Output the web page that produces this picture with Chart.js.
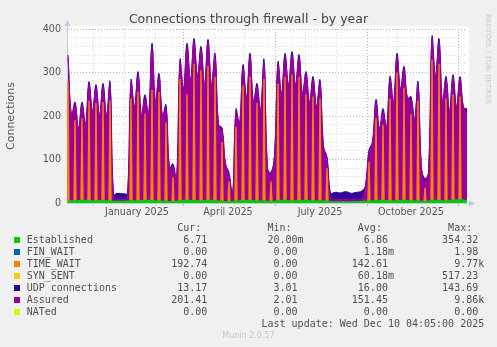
<!DOCTYPE html>
<html>
<head>
<meta charset="utf-8">
<script src="https://cdn.jsdelivr.net/npm/chart.js@4.4.1/dist/chart.umd.min.js"></script>
<style>
  body { margin: 0; background: #f0f0f0; }
  #wrap { position: relative; width: 497px; height: 347px; overflow: hidden; font-family: "DejaVu Sans", sans-serif; }
  #chart { position: absolute; left: 0; top: 0; }
  #title { position: absolute; left: 0; top: 10.5px; width: 497px; text-align: center; font-size: 12.5px; line-height: 15px; color: #444; }
  #rrd { position: absolute; left: 483px; top: 14px; writing-mode: vertical-rl; font-size: 7px; line-height: 9px; color: #c8c8c8; white-space: nowrap; }
  #legend { position: absolute; left: 0; top: 222px; width: 497px; font-family: "DejaVu Sans Mono", monospace; font-size: 10px; line-height: 12px; color: #505050; }
  .row { position: relative; height: 12px; white-space: pre; padding-left: 26.7px; }
  .sq { position: absolute; left: 14px; top: 3px; width: 6px; height: 6px; }
  #munin { position: absolute; left: 0; top: 331px; width: 497px; text-align: center; font-size: 8px; line-height: 10px; color: #c4c4c4; }
</style>
</head>
<body>
<div id="wrap">
  <canvas id="chart" width="497" height="347"></canvas>
  <div id="title">Connections through firewall - by year</div>
  <div id="rrd">RRDTOOL / TOBI OETIKER</div>
  <div id="legend"></div>
  <div id="munin">Munin 2.0.57</div>
</div>
<script>
// days counted from 5 Nov 2024 (left edge), 400 days to 10 Dec 2025
var firstDay = 1;

// one peak (weekdays) and one low (weekend) per week
var assuredPeak = [333,225,225,271,264,267,271,8,8,275,
                   294,241,359,290,218,83,322,359,370,352,
                   368,336,165,64,209,310,336,267,322,64,
                   317,336,340,333,294,283,275,99,8,8,
                   8,8,10,115,230,209,283,336,306,237,
                   271,50,375,370,283,287,283];
var assuredLow = [200,170,180,210,200,200,8,8,10,220,
                  200,200,230,200,80,50,260,280,290,270,
                  270,180,90,15,180,240,230,210,80,110,
                  250,270,270,250,230,220,130,8,8,8,
                  8,8,40,140,170,170,230,260,240,190,
                  80,70,290,230,210,220,220];
var timeWaitPeak = [280,190,195,235,230,232,235,0,0,240,
                    255,205,260,255,185,60,285,250,320,305,
                    315,290,140,50,175,270,290,230,285,50,
                    275,290,295,290,250,245,240,80,0,0,
                    0,0,3,95,195,180,240,300,265,205,
                    235,35,330,320,240,250,245];
var timeWaitLow = [4,3,3,4,3,3,0,0,0,4,
                   3,3,4,3,3,2,4,3,3,4,
                   3,3,2,2,3,4,3,3,4,2,
                   3,4,3,3,4,3,3,0,0,0,
                   0,0,1,3,4,3,3,4,3,3,
                   2,2,4,3,3,4,3];
var udpPeak = [340,232,232,279,272,275,279,22,21,283,
               302,249,367,298,226,90,330,367,378,360,
               376,344,173,70,216,318,344,275,330,70,
               325,344,348,341,302,291,283,106,24,23,
               25,24,28,122,238,217,291,344,314,245,
               279,56,383,378,291,295,291];
var udpLow = [200,170,180,210,200,200,20,22,22,220,
              200,200,230,200,80,50,260,280,290,270,
              270,180,90,18,180,240,230,210,80,110,
              250,270,270,250,230,220,130,22,24,26,
              22,25,40,140,170,170,230,260,240,190,
              80,70,290,230,210,220,220];
var established = [7,6,8,7,6,8,6,5,5,7,
                   6,8,7,6,5,4,7,8,7,6,
                   8,7,5,4,6,7,8,6,7,4,
                   7,8,6,7,8,6,7,5,4,4,
                   4,4,5,6,7,8,6,7,8,6,
                   7,4,8,7,6,8,9];
var lastAssured = 210, lastTimeWait = 3, lastUdp = 216, lastEstablished = 7;

var monthDays = [26,57,88,116,147,177,208,238,269,300,330,361,391];
var quarterDays = [116,208,300,391];
var labelDays = [70,161,253,344];
var monthLabels = ['January 2025','April 2025','July 2025','October 2025'];

var legendNames = ['Established','FIN_WAIT','TIME_WAIT','SYN_SENT','UDP connections','Assured','NATed'];
var legendColors = ['#00cc00','#0066b3','#ff8000','#ffcc00','#330099','#990099','#ccff00'];
var curVals = ['6.71','0.00','192.74','0.00','13.17','201.41','0.00'];
var minVals = ['20.00m','0.00','0.00','0.00','3.01','2.01','0.00'];
var avgVals = ['6.86','1.18m','142.61','60.18m','16.00','151.45','0.00'];
var maxVals = ['354.32','1.98','9.77k','517.23','143.69','9.86k','0.00'];
var lastUpdate = 'Last update: Wed Dec 10 04:05:00 2025';

var axisColor = '#c4c8e8';
var minorGrid = '#d8d8d8';
var majorGrid = '#e8a0a0';

// peak and low of each week, low half a week after the peak
function weekly(peaks, lows, last) {
  var pts = [];
  peaks.forEach(function (p, k) {
    pts.push({x: firstDay + 7 * k, y: p});
    pts.push({x: firstDay + 3.5 + 7 * k, y: lows[k]});
  });
  pts.push({x: 400, y: last});
  return pts;
}

// narrow weekday bar around each weekly peak
function bars(peaks, lows, last) {
  var pts = [];
  peaks.forEach(function (p, k) {
    var d = firstDay + 7 * k;
    pts.push({x: d - 1.7, y: lows[k]});
    pts.push({x: d - 0.7, y: p});
    pts.push({x: d + 0.7, y: p});
    pts.push({x: d + 1.7, y: lows[k]});
  });
  pts.push({x: 400, y: last});
  return pts;
}

var estPts = established.map(function (v, k) { return {x: firstDay + 7 * k, y: v}; });
estPts.push({x: 400, y: lastEstablished});

function xGrid(v) {
  if (labelDays.indexOf(v) >= 0) return 'rgba(0,0,0,0)';
  return quarterDays.indexOf(v) >= 0 ? majorGrid : minorGrid;
}

var plotBack = {
  id: 'plotBack',
  beforeDraw: function (chart) {
    var a = chart.chartArea, ctx = chart.ctx;
    ctx.save();
    ctx.fillStyle = '#ffffff';
    ctx.fillRect(a.left, a.top - 3, a.right - a.left + 2, a.bottom - a.top + 3);
    ctx.restore();
  },
  afterDraw: function (chart) {
    var a = chart.chartArea, ctx = chart.ctx;
    ctx.save();
    ctx.strokeStyle = axisColor;
    ctx.fillStyle = axisColor;
    ctx.lineWidth = 1;
    ctx.beginPath();
    ctx.moveTo(a.left + 0.5, a.top); ctx.lineTo(a.left + 0.5, a.top - 4);
    ctx.moveTo(a.right, a.bottom + 0.5); ctx.lineTo(a.right + 3, a.bottom + 0.5);
    ctx.stroke();
    ctx.beginPath();
    ctx.moveTo(a.left - 2.5, a.top - 3); ctx.lineTo(a.left + 3.5, a.top - 3); ctx.lineTo(a.left + 0.5, a.top - 9);
    ctx.closePath(); ctx.fill();
    ctx.beginPath();
    ctx.moveTo(a.right + 2, a.bottom - 2.5); ctx.lineTo(a.right + 2, a.bottom + 3.5); ctx.lineTo(a.right + 8, a.bottom + 0.5);
    ctx.closePath(); ctx.fill();
    ctx.restore();
  }
};

var ctx = document.getElementById('chart');
var chart = new Chart(ctx, {
  type: 'line',
  data: {
    datasets: [{
      label: 'Established',
      data: estPts,
      backgroundColor: '#00cc00',
      borderWidth: 0,
      fill: 'origin',
      order: 0
    }, {
      label: 'TIME_WAIT',
      data: bars(timeWaitPeak, timeWaitLow, lastTimeWait),
      backgroundColor: '#ff8000',
      borderWidth: 0,
      fill: 'origin',
      order: 1
    }, {
      label: 'Assured',
      data: weekly(assuredPeak, assuredLow, lastAssured),
      backgroundColor: '#990099',
      borderColor: '#990099',
      borderWidth: 1,
      tension: 0.4,
      fill: 'origin',
      order: 2
    }, {
      label: 'UDP connections',
      data: weekly(udpPeak, udpLow, lastUdp),
      backgroundColor: '#330099',
      borderColor: '#330099',
      borderWidth: 1,
      tension: 0.4,
      fill: 'origin',
      order: 3
    }]
  },
  options: {
    responsive: false,
    animation: false,
    devicePixelRatio: 1,
    layout: { padding: { left: 0, right: 30, top: 29, bottom: 124 } },
    elements: { point: { radius: 0 }, line: { tension: 0 } },
    plugins: { legend: { display: false }, tooltip: { enabled: false } },
    scales: {
      x: {
        type: 'linear',
        min: 0,
        max: 400,
        afterBuildTicks: function (s) {
          s.ticks = monthDays.concat(labelDays).sort(function (a, b) { return a - b; })
            .map(function (v) { return {value: v}; });
        },
        afterFit: function (s) { s.height = 20; },
        ticks: {
          autoSkip: false,
          maxRotation: 0,
          padding: 1,
          color: '#555',
          font: { family: 'DejaVu Sans', size: 9.6 },
          callback: function (v) {
            var i = labelDays.indexOf(v);
            return i >= 0 ? monthLabels[i] : '';
          }
        },
        grid: {
          color: function (c) { return xGrid(c.tick.value); },
          tickColor: function (c) { return xGrid(c.tick.value); },
          tickLength: 3
        },
        border: { color: axisColor, dash: [1, 2] }
      },
      y: {
        min: 0,
        max: 400,
        afterFit: function (s) { s.width = 67; },
        ticks: {
          stepSize: 20,
          autoSkip: false,
          padding: 6,
          color: '#555',
          font: { family: 'DejaVu Sans', size: 9.6 },
          callback: function (v) { return v % 100 === 0 ? v : ''; }
        },
        grid: {
          drawTicks: false,
          color: function (c) { return c.tick.value % 100 === 0 ? majorGrid : minorGrid; }
        },
        border: { color: axisColor, dash: [1, 2] },
        title: {
          display: true,
          text: 'Connections',
          color: '#555',
          font: { family: 'DejaVu Sans', size: 11 },
          padding: { top: 5, bottom: 0 }
        }
      }
    }
  },
  plugins: [plotBack]
});

// legend table, monospace columns like munin
function put(s, str, endCol) {
  while (s.length < endCol - str.length) s += ' ';
  return s + str;
}
function putVal(s, val, endCol) {
  var suffix = /[a-z]$/i.test(val) ? val.slice(-1) : '';
  var num = suffix ? val.slice(0, -1) : val;
  return put(s, num, endCol) + suffix;
}

var legend = document.getElementById('legend');
var head = document.createElement('div');
head.className = 'row';
var h = '';
h = put(h, 'Cur:', 29); h = put(h, 'Min:', 44); h = put(h, 'Avg:', 59); h = put(h, 'Max:', 74);
head.textContent = h;
legend.appendChild(head);

legendNames.forEach(function (name, i) {
  var row = document.createElement('div');
  row.className = 'row';
  var sq = document.createElement('span');
  sq.className = 'sq';
  sq.style.background = legendColors[i];
  var s = name;
  s = putVal(s, curVals[i], 30);
  s = putVal(s, minVals[i], 45);
  s = putVal(s, avgVals[i], 60);
  s = putVal(s, maxVals[i], 75);
  row.appendChild(sq);
  row.appendChild(document.createTextNode(s));
  legend.appendChild(row);
});

var upd = document.createElement('div');
upd.className = 'row';
upd.textContent = put('', lastUpdate, 76);
legend.appendChild(upd);
</script>
</body>
</html>
